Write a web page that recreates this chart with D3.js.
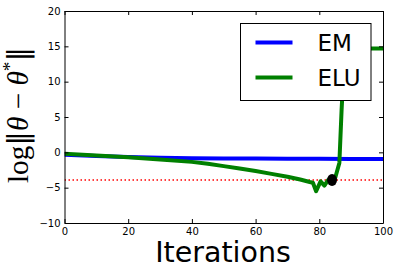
<!DOCTYPE html>
<html>
<head>
<meta charset="utf-8">
<script src="https://cdn.jsdelivr.net/npm/d3@7"></script>
<style>
  body { margin: 0; background: #fff; }
  svg { display: block; }
  .tick text { font-family: "DejaVu Sans", sans-serif; font-size: 10px; fill: #000; }
</style>
</head>
<body>
<svg id="chart" width="399" height="276"></svg>
<script>
(function() {

// iterations and values
var emIters = [0, 10, 20, 30, 40, 50, 60, 70, 80, 90, 100];
var emValues = [-0.35, -0.52, -0.65, -0.75, -0.82, -0.86, -0.88, -0.9, -0.92, -0.94, -0.95];

var eluIters = [0, 10, 20, 30, 40, 45, 50, 55, 60, 65, 70, 74, 77, 78, 79, 80.4, 81.6, 82.8, 84, 85, 86.3, 87, 88, 90, 95, 100];
var eluValues = [-0.2, -0.45, -0.7, -1.0, -1.35, -1.62, -1.95, -2.3, -2.65, -3.05, -3.45, -3.85, -4.2, -4.3, -5.5, -4.1, -4.7, -3.9, -3.9, -3.6, -1.5, 6.0, 14.7, 14.7, 14.7, 14.7];

var markerPoint = [84, -3.9];
var thresholdValue = -3.9;

var xTicks = [0, 20, 40, 60, 80, 100];
var yTicks = [-10, -5, 0, 5, 10, 15, 20];

var seriesNames = ['EM', 'ELU'];
var seriesColors = ['#0000ff', '#008000'];

var svg = d3.select('#chart');

var margin = {top: 11, right: 16, bottom: 53, left: 64.5},
    width = +svg.attr('width') - margin.left - margin.right,
    height = +svg.attr('height') - margin.top - margin.bottom;

var x = d3.scaleLinear().domain([0, 100]).range([0, width]);
var y = d3.scaleLinear().domain([-10, 20]).range([height, 0]);

var svgg = svg.append('g')
    .attr('transform', 'translate(' + margin.left + ',' + margin.top + ')');

var defs = svg.append('defs');
defs.append('clipPath').attr('id', 'plotclip')
  .append('rect').attr('width', width).attr('height', height);

var plot = svgg.append('g').attr('clip-path', 'url(#plotclip)');

var line = d3.line()
    .x(function(d) { return x(d[0]); })
    .y(function(d) { return y(d[1]); });

// red threshold
plot.append('path')
    .datum([[0, thresholdValue], [100, thresholdValue]])
    .attr('d', line)
    .attr('fill', 'none')
    .attr('stroke', '#ff0000')
    .attr('stroke-width', 1.5)
    .attr('stroke-dasharray', '1.5,2.5');

plot.append('path')
    .datum(emIters.map(function(d, i) { return [d, emValues[i]]; }))
    .attr('d', line)
    .attr('fill', 'none')
    .attr('stroke', seriesColors[0])
    .attr('stroke-width', 4);

plot.append('path')
    .datum(eluIters.map(function(d, i) { return [d, eluValues[i]]; }))
    .attr('d', line)
    .attr('fill', 'none')
    .attr('stroke', seriesColors[1])
    .attr('stroke-width', 4)
    .attr('stroke-linejoin', 'round');

plot.append('ellipse')
    .attr('cx', x(markerPoint[0]))
    .attr('cy', y(markerPoint[1]))
    .attr('rx', 5)
    .attr('ry', 6)
    .attr('fill', '#000');

// axes, matplotlib classic style: ticks pointing in on all sides
var fmt = function(t) { return t < 0 ? '\u2212' + Math.abs(t) : t; };

var bottom = svgg.append('g')
    .attr('transform', 'translate(0,' + height + ')')
    .call(d3.axisBottom(x).tickValues(xTicks).tickSizeInner(-4).tickSizeOuter(0).tickPadding(4.5).tickFormat(fmt));
var left = svgg.append('g')
    .call(d3.axisLeft(y).tickValues(yTicks).tickSizeInner(-4).tickSizeOuter(0).tickPadding(4).tickFormat(fmt));
var top = svgg.append('g')
    .call(d3.axisTop(x).tickValues(xTicks).tickSizeInner(-4).tickSizeOuter(0).tickFormat(''));
var right = svgg.append('g')
    .attr('transform', 'translate(' + width + ',0)')
    .call(d3.axisRight(y).tickValues(yTicks).tickSizeInner(-4).tickSizeOuter(0).tickFormat(''));

[bottom, left, top, right].forEach(function(a) {
    a.selectAll('path, line').attr('stroke', '#000').attr('stroke-width', 1);
});

// legend
var legend = svgg.append('g')
    .attr('transform', 'translate(' + (240.5 - margin.left) + ',' + (23.5 - margin.top) + ')');

legend.append('rect')
    .attr('width', 130.5)
    .attr('height', 77)
    .attr('fill', '#fff')
    .attr('stroke', '#000')
    .attr('stroke-width', 1);

seriesNames.forEach(function(name, i) {
    var ly = 19 + i * 35;
    legend.append('line')
        .attr('x1', 15).attr('x2', 52)
        .attr('y1', ly).attr('y2', ly)
        .attr('stroke', seriesColors[i])
        .attr('stroke-width', 4);
    legend.append('text')
        .attr('x', 77)
        .attr('y', ly + 8.5)
        .attr('font-family', 'DejaVu Sans, sans-serif')
        .attr('font-size', 23)
        .text(name);
});

// axis labels
svg.append('text')
    .attr('x', 223)
    .attr('y', 262)
    .attr('text-anchor', 'middle')
    .attr('font-family', 'DejaVu Sans, sans-serif')
    .attr('font-size', 28.5)
    .text('Iterations');

var ylab = svg.append('text')
    .attr('text-anchor', 'middle')
    .attr('font-family', 'Liberation Serif, DejaVu Serif, serif')
    .attr('font-size', 29);
ylab.append('tspan').text('log');
ylab.append('tspan').attr('font-family', 'DejaVu Sans, sans-serif').text('\u2016');
ylab.append('tspan').attr('font-style', 'italic').text('\u03b8');
ylab.append('tspan').text(' \u2212 ');
ylab.append('tspan').attr('font-style', 'italic').text('\u03b8');
ylab.append('tspan').attr('dy', -12).attr('font-size', 19).text('*');
ylab.append('tspan').attr('dy', 12).attr('font-family', 'DejaVu Sans, sans-serif').text('\u2016');

// squeeze the label along its length to the span seen in the picture
var labLen = ylab.node().getComputedTextLength();
var sx = 136 / labLen;
ylab.attr('transform', 'translate(28,115) rotate(-90) scale(' + sx + ',1)');

})();
</script>
</body>
</html>
